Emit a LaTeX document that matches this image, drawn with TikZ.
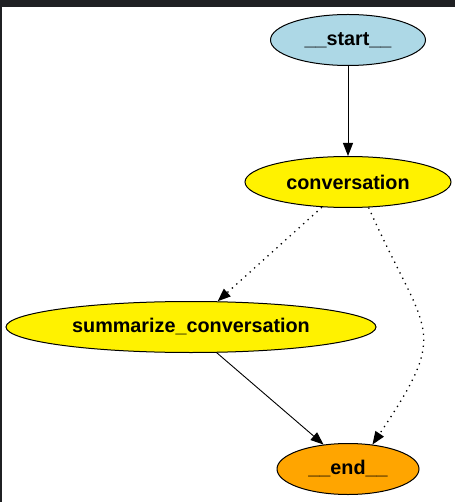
\documentclass[tikz,border=0pt]{standalone}
\usepackage{fontspec}
\setmainfont{Liberation Sans}
\usepackage{tikz}
\usetikzlibrary{shapes.geometric,arrows.meta}

\definecolor{frame}{HTML}{1F2023}
\definecolor{startblue}{HTML}{ADD8E6}
\definecolor{endorange}{HTML}{FFA500}

\begin{document}
\begin{tikzpicture}[x=1pt,y=-1pt,
		state/.style={ellipse,draw=black,line width=1pt,inner sep=0pt,minimum height=51pt,
			font=\fontsize{19.8}{22}\selectfont\bfseries},
		edge/.style={line width=0.9pt,-{Triangle[length=13pt,width=10pt]}},
		dots/.style={edge,line width=1.3pt,dash pattern=on 1.3pt off 4.7pt}]
			\useasboundingbox (0,0) rectangle (455,502);
			\fill[white] (0,0) rectangle (455,502);
			\fill[frame] (0,0) rectangle (455,7);
			\fill[frame] (0,0) rectangle (2,502);

			\node[state,fill=startblue,minimum width=155pt] (start) at (348,40) {\_\_start\_\_};
			\node[state,fill=yellow,minimum width=206pt] (conv) at (348,182) {conversation};
			\node[state,fill=yellow,minimum width=370pt] (summ) at (191,327) {summarize\_conversation};
			\node[state,fill=endorange,minimum width=142pt] (end) at (348,469) {\_\_end\_\_};

			\draw[edge] (start) -- (conv);
			\draw[dots] (conv.-136) -- (summ.44);
			\draw[dots] (conv.-51) .. controls (426,337) and (452,326) .. (end.45);
			\draw[edge] (summ.-45) -- (end.135);
		\end{tikzpicture}
\end{document}
